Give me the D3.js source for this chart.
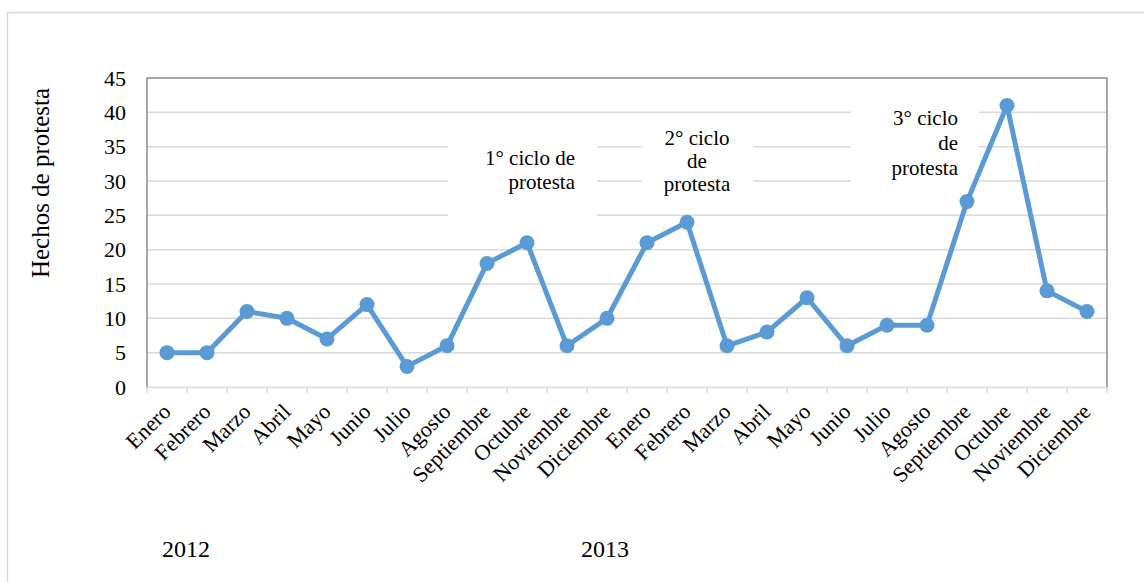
<!DOCTYPE html>
<html><head><meta charset="utf-8">
<script src="https://cdn.jsdelivr.net/npm/d3@7"></script>
<style>body{margin:0;background:#fff}svg{display:block}svg text{font-family:"Liberation Serif","Times New Roman",serif !important;fill:#000}</style>
</head><body><svg id="c" width="1144" height="582"></svg>
<script>
const months = ["Enero","Febrero","Marzo","Abril","Mayo","Junio","Julio","Agosto","Septiembre","Octubre","Noviembre","Diciembre"];
const years = ["2012","2013"];
const values2012 = [5,5,11,10,7,12,3,6,18,21,6,10];
const values2013 = [21,24,6,8,13,6,9,9,27,41,14,11];
const yTicks = [0,5,10,15,20,25,30,35,40,45];
const yLabel = "Hechos de protesta";
const notes = [
  {lines:["1° ciclo de","protesta"], anchor:"end"},
  {lines:["2° ciclo","de","protesta"], anchor:"middle"},
  {lines:["3° ciclo","de","protesta"], anchor:"end"}
];

const data = [];
years.forEach((y,yi)=>months.forEach((m,i)=>data.push({key:y+"-"+i,label:m,value:(yi?values2013:values2012)[i]})));

const FONT = "'Liberation Serif', 'Times New Roman', serif";
const svg = d3.select("#c").attr("font-family",FONT);
const L=147,R=1107,T=78,B=387;
const x = d3.scaleBand().domain(data.map(d=>d.key)).range([L,R]);
const y = d3.scaleLinear().domain([0,45]).range([B,T]);

// outer border
svg.append("rect").attr("x",7.5).attr("y",12.5).attr("width",1150).attr("height",600)
  .attr("fill","none").attr("stroke","#d9d9d9").attr("stroke-width",1.5);

// gridlines
svg.append("g").selectAll("line").data(yTicks.filter(t=>t>0&&t<45)).join("line")
  .attr("x1",L).attr("x2",R).attr("y1",d=>y(d)).attr("y2",d=>y(d))
  .attr("stroke","#d9d9d9").attr("stroke-width",1.5);

// annotation boxes (white, hide gridlines)
const boxes = [
  {x0:448,x1:597,y0:130,y1:217, tx:575, ty:[165,189]},
  {x0:642,x1:753,y0:120,y1:205, tx:697, ty:[145,168,191]},
  {x0:851,x1:979,y0:100,y1:200, tx:958, ty:[125,150,175]}
];
boxes.forEach(b=>svg.append("rect").attr("x",b.x0).attr("y",b.y0).attr("width",b.x1-b.x0).attr("height",b.y1-b.y0).attr("fill","#fff"));

// x axis
const xAxis = svg.append("g").attr("transform",`translate(0,${B})`)
  .call(d3.axisBottom(x).tickSize(0).tickFormat((k,i)=>data[i].label));
xAxis.attr("font-family",FONT);
xAxis.select(".domain").attr("stroke","#d9d9d9").attr("stroke-width",1.5);
xAxis.selectAll("text").attr("font-size",22).attr("text-anchor","end")
  .attr("x",0).attr("y",0).attr("dy",0)
  .attr("transform","translate(5,26) rotate(-45)");
// boundary ticks
svg.append("g").selectAll("line").data(d3.range(data.length+1)).join("line")
  .attr("x1",i=>L+i*x.bandwidth()).attr("x2",i=>L+i*x.bandwidth())
  .attr("y1",B).attr("y2",B+6).attr("stroke","#d9d9d9").attr("stroke-width",1.5);

// y axis
const yAxis = svg.append("g").attr("transform",`translate(${L},0)`)
  .call(d3.axisLeft(y).tickValues(yTicks).tickSize(0).tickPadding(21));
yAxis.attr("font-family",FONT);
yAxis.select(".domain").remove();
yAxis.selectAll("text").attr("font-size",22);

// plot border (left, top, right)
svg.append("path").attr("d",`M${L},${B}V${T}H${R}V${B}`).attr("fill","none")
  .attr("stroke","#8c8c8c").attr("stroke-width",1.5);

// annotations text
notes.forEach((n,i)=>{
  const b=boxes[i];
  n.lines.forEach((ln,j)=>svg.append("text").attr("x",b.tx).attr("y",b.ty[j]).attr("text-anchor",n.anchor)
    .attr("font-size",21).text(ln));
});

// line
const line = d3.line().x(d=>x(d.key)+x.bandwidth()/2).y(d=>y(d.value));
svg.append("path").datum(data).attr("d",line).attr("fill","none")
  .attr("stroke","#5b9bd5").attr("stroke-width",5).attr("stroke-linejoin","round");
svg.append("g").selectAll("circle").data(data).join("circle")
  .attr("cx",d=>x(d.key)+x.bandwidth()/2).attr("cy",d=>y(d.value)).attr("r",7.5)
  .attr("fill","#5b9bd5");

// y label
svg.append("text").attr("transform","translate(49,183) rotate(-90)").attr("text-anchor","middle")
  .attr("font-size",25).text(yLabel);

// year labels
svg.append("text").attr("x",162).attr("y",557).attr("font-size",24).text(years[0]);
svg.append("text").attr("x",581).attr("y",557).attr("font-size",24).text(years[1]);
</script></body></html>
